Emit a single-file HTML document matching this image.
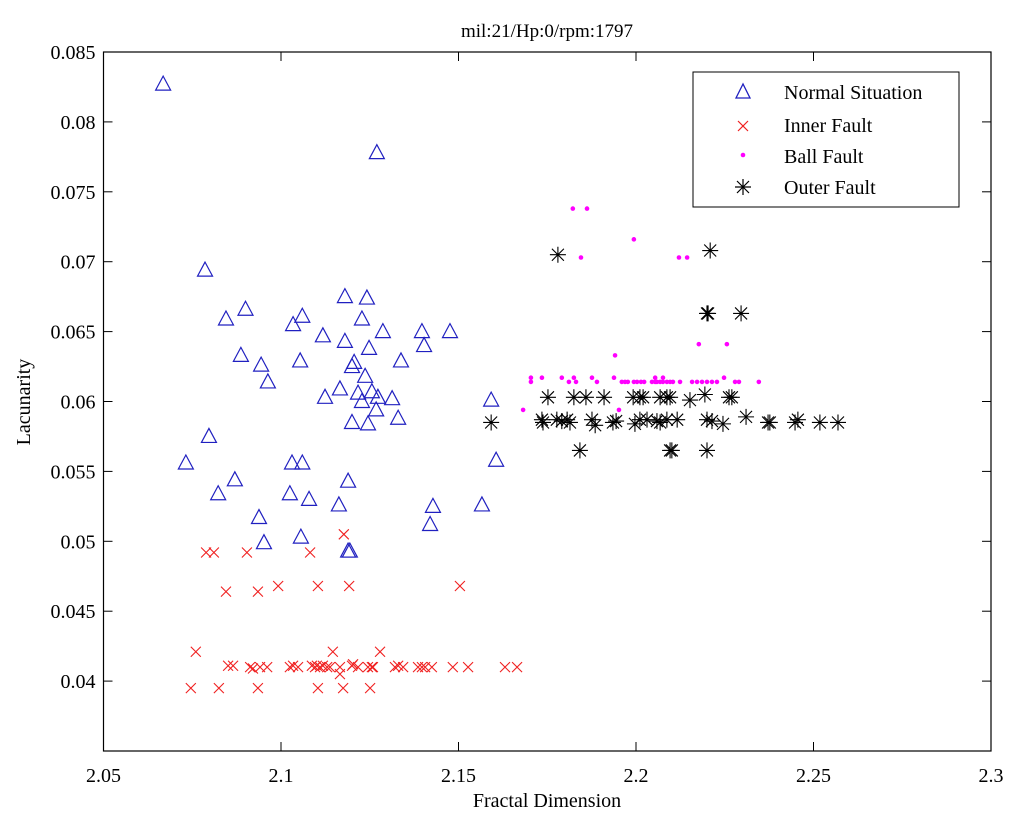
<!DOCTYPE html>
<html><head><meta charset="utf-8"><style>
body{margin:0;background:#fff;}
svg{display:block;font-family:"Liberation Serif",serif;}
</style></head><body>
<svg id="chart" width="1024" height="827" viewBox="0 0 1024 827" xmlns="http://www.w3.org/2000/svg">
<rect x="0" y="0" width="1024" height="827" fill="#fff"/>
<g id="axes"></g><g id="marks"></g>
<text x="547" y="37" font-size="19" text-anchor="middle">mil:21/Hp:0/rpm:1797</text>
<text x="547" y="807" font-size="20" text-anchor="middle">Fractal Dimension</text>
<text x="0" y="0" font-size="20" text-anchor="middle" transform="translate(30,402) rotate(-90)">Lacunarity</text>
<g>
<rect x="693" y="72" width="266" height="135" fill="#fff" stroke="#000" stroke-width="1"/>
<polygon points="743,84 736,98 750,98" fill="none" stroke="#2020c0" stroke-width="1.3"/>
<text x="784" y="99" font-size="20">Normal Situation</text>
<path d="M738,121 L748,131 M748,121 L738,131" stroke="#f02020" stroke-width="1.2"/>
<text x="784" y="132" font-size="20">Inner Fault</text>
<circle cx="743" cy="155" r="2.3" fill="#ff00ff"/>
<text x="784" y="163" font-size="20">Ball Fault</text>
<path d="M743,179 V195 M735,187 H751 M737,181 L749,193 M749,181 L737,193" stroke="#000" stroke-width="1.2"/>
<text x="784" y="194" font-size="20">Outer Fault</text>
</g>
</svg>
<script>
const xTicks=[2.05,2.1,2.15,2.2,2.25,2.3];
const xTickLabels=["2.05","2.1","2.15","2.2","2.25","2.3"];
const yTicks=[0.04,0.045,0.05,0.055,0.06,0.065,0.07,0.075,0.08,0.085];
const yTickLabels=["0.04","0.045","0.05","0.055","0.06","0.065","0.07","0.075","0.08","0.085"];
const normalX=[2.0668,2.127,2.0786,2.090,2.0845,2.0887,2.0944,2.0963,2.0732,2.0797,2.087,2.0823,2.0938,2.0952,2.1031,2.106,2.1025,2.1079,2.1056,2.1034,2.106,2.1054,2.1118,2.1124,2.1166,2.118,2.118,2.1206,2.12,2.1242,2.1228,2.1248,2.1237,2.1217,2.1228,2.1256,2.1268,2.12,2.1245,2.1287,2.1273,2.1313,2.133,2.1338,2.1397,2.1403,2.1476,2.1592,2.1606,2.1566,2.1428,2.142,2.1163,2.1189,2.1189,2.1194];
const normalY=[0.0827,0.0778,0.0694,0.0666,0.0659,0.0633,0.0626,0.0614,0.0556,0.0575,0.0544,0.0534,0.0517,0.0499,0.0556,0.0556,0.0534,0.053,0.0503,0.0655,0.0661,0.0629,0.0647,0.0603,0.0609,0.0675,0.0643,0.0628,0.0625,0.0674,0.0659,0.0638,0.0618,0.0606,0.0600,0.0607,0.0594,0.0585,0.0584,0.065,0.0603,0.0602,0.0588,0.0629,0.065,0.064,0.065,0.0601,0.0558,0.0526,0.0525,0.0512,0.0526,0.0543,0.0493,0.0493];
const innerX=[2.0851,2.0865,2.0913,2.0921,2.0941,2.0961,2.1025,2.1034,2.1048,2.1087,2.1096,2.1101,2.111,2.1118,2.113,2.1138,2.1166,2.12,2.1203,2.1217,2.1245,2.1256,2.1259,2.1321,2.133,2.1344,2.1386,2.1397,2.1406,2.1425,2.1484,2.1527,2.1631,2.1665,2.076,2.1146,2.1279,2.0746,2.0825,2.0935,2.1104,2.1175,2.1251,2.1166,2.0789,2.0811,2.0904,2.1082,2.1177,2.0845,2.0935,2.0992,2.1104,2.1192,2.1504];
const innerY=[0.0411,0.0411,0.041,0.0409,0.041,0.041,0.041,0.0411,0.041,0.0411,0.041,0.0411,0.041,0.0411,0.041,0.041,0.041,0.0411,0.0412,0.041,0.041,0.041,0.041,0.041,0.0411,0.041,0.041,0.041,0.041,0.041,0.041,0.041,0.041,0.041,0.0421,0.0421,0.0421,0.0395,0.0395,0.0395,0.0395,0.0395,0.0395,0.0405,0.0492,0.0492,0.0492,0.0492,0.0505,0.0464,0.0464,0.0468,0.0468,0.0468,0.0468];
const ballX=[2.1822,2.1862,2.1994,2.1845,2.2121,2.2144,2.2177,2.2256,2.1941,2.1682,2.1952,2.1704,2.1704,2.1735,2.1791,2.1811,2.1825,2.1831,2.1876,2.189,2.1938,2.196,2.1969,2.1977,2.1994,2.2003,2.2014,2.2023,2.2045,2.2054,2.2059,2.2068,2.2076,2.2087,2.2096,2.2104,2.2124,2.2054,2.2076,2.2158,2.2172,2.2186,2.22,2.2214,2.2228,2.2248,2.2279,2.229,2.2346];
const ballY=[0.0738,0.0738,0.0716,0.0703,0.0703,0.0703,0.0641,0.0641,0.0633,0.0594,0.0594,0.0617,0.0614,0.0617,0.0617,0.0614,0.0617,0.0614,0.0617,0.0614,0.0617,0.0614,0.0614,0.0614,0.0614,0.0614,0.0614,0.0614,0.0614,0.0614,0.0614,0.0614,0.0614,0.0614,0.0614,0.0614,0.0614,0.0617,0.0617,0.0614,0.0614,0.0614,0.0614,0.0614,0.0614,0.0617,0.0614,0.0614,0.0614];
const outerX=[2.178,2.2209,2.22,2.2203,2.2296,2.1752,2.1825,2.1859,2.191,2.1992,2.2011,2.202,2.2068,2.2087,2.2096,2.2152,2.2194,2.2262,2.227,2.1735,2.1738,2.1777,2.1791,2.1806,2.1814,2.1876,2.1885,2.1935,2.1944,2.1997,2.2011,2.2031,2.2059,2.2068,2.2087,2.2116,2.22,2.2214,2.2245,2.231,2.2372,2.2377,2.2448,2.2456,2.2518,2.2569,2.1592,2.1842,2.2096,2.2101,2.22];
const outerY=[0.0705,0.0708,0.0663,0.0663,0.0663,0.0603,0.0603,0.0603,0.0603,0.0603,0.0603,0.0603,0.0603,0.0603,0.0603,0.0601,0.0605,0.0603,0.0603,0.0587,0.0585,0.0587,0.0586,0.0587,0.0585,0.0587,0.0583,0.0585,0.0586,0.0584,0.0587,0.0587,0.0586,0.0585,0.0587,0.0587,0.0587,0.0586,0.0584,0.0589,0.0585,0.0585,0.0585,0.0587,0.0585,0.0585,0.0585,0.0565,0.0565,0.0565,0.0565];

const L=103.5,R=991,T=52,B=751;
function sx(v){return L+(v-2.05)/(2.3-2.05)*(R-L);}
function sy(v){return B-(v-0.035)/(0.085-0.035)*(B-T);}
const NS="http://www.w3.org/2000/svg";
function mk(tag,attrs,parent){const e=document.createElementNS(NS,tag);for(const k in attrs)e.setAttribute(k,attrs[k]);parent.appendChild(e);return e;}
const ax=document.getElementById('axes');
const frame=mk('rect',{x:L,y:T,width:R-L,height:B-T,fill:'none',stroke:'#000','stroke-width':1.2},ax);


xTicks.forEach((v,i)=>{const x=sx(v);
mk('line',{x1:x,x2:x,y1:B,y2:B-9,stroke:'#000'},ax);mk('line',{x1:x,x2:x,y1:T,y2:T+9,stroke:'#000'},ax);
const t=mk('text',{x:x,y:B+31,'font-size':20,'text-anchor':'middle'},ax);t.textContent=xTickLabels[i];

});
yTicks.forEach((v,i)=>{const y=sy(v);
mk('line',{x1:L,x2:L+9,y1:y,y2:y,stroke:'#000'},ax);mk('line',{x1:R,x2:R-9,y1:y,y2:y,stroke:'#000'},ax);
const t=mk('text',{x:L-8,y:y+7,'font-size':20,'text-anchor':'end'},ax);t.textContent=yTickLabels[i];

});
const mg=document.getElementById('marks');
normalX.forEach((v,i)=>{const x=sx(v),y=sy(normalY[i]);
const p=mk('polygon',{points:`${x},${y-8} ${x-7.5},${y+6} ${x+7.5},${y+6}`,fill:'none',stroke:'#2020c0','stroke-width':1.2},mg);

});
innerX.forEach((v,i)=>{const x=sx(v),y=sy(innerY[i]);
const p=mk('path',{d:`M${x-5},${y-5}L${x+5},${y+5}M${x+5},${y-5}L${x-5},${y+5}`,stroke:'#f02020','stroke-width':1.1},mg);

});
ballX.forEach((v,i)=>{const p=mk('circle',{cx:sx(v),cy:sy(ballY[i]),r:2.3,fill:'#ff00ff'},mg);

});
outerX.forEach((v,i)=>{const x=sx(v),y=sy(outerY[i]);
const p=mk('path',{d:`M${x},${y-8}V${y+8}M${x-8},${y}H${x+8}M${x-6},${y-6}L${x+6},${y+6}M${x+6},${y-6}L${x-6},${y+6}`,stroke:'#000','stroke-width':1.1},mg);

});
</script>
</body></html>
